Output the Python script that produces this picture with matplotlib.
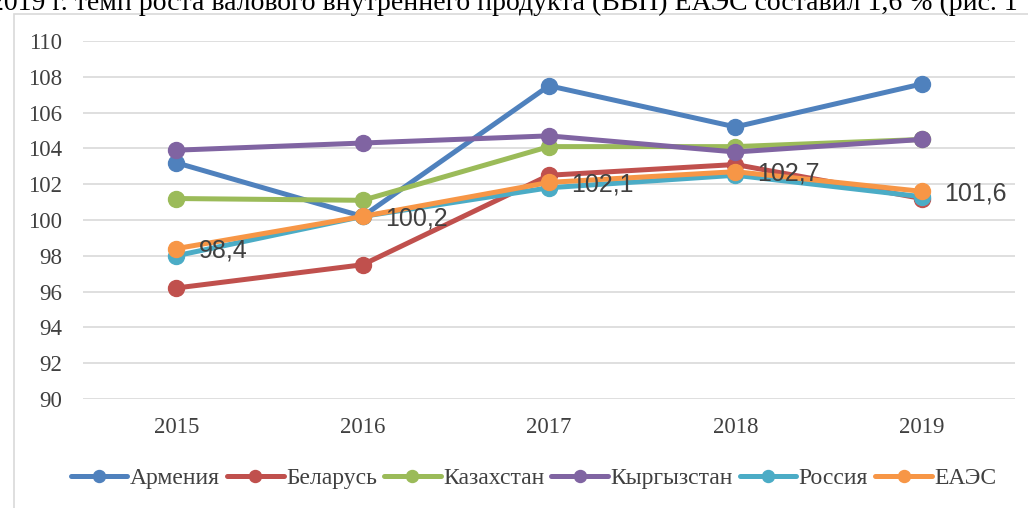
import matplotlib.pyplot as plt
from matplotlib.patches import Rectangle

years = ['2015', '2016', '2017', '2018', '2019']
armenia = [103.2, 100.2, 107.5, 105.2, 107.6]
belarus = [96.2, 97.5, 102.5, 103.1, 101.2]
kazakhstan = [101.2, 101.1, 104.1, 104.1, 104.5]
kyrgyzstan = [103.9, 104.3, 104.7, 103.8, 104.5]
russia = [98.0, 100.2, 101.8, 102.5, 101.3]
eaeu = [98.4, 100.2, 102.1, 102.7, 101.6]

series = [
    ('Армения', armenia, '#4F81BD'),
    ('Беларусь', belarus, '#C0504D'),
    ('Казахстан', kazakhstan, '#9BBB59'),
    ('Кыргызстан', kyrgyzstan, '#8064A2'),
    ('Россия', russia, '#4BACC6'),
    ('ЕАЭС', eaeu, '#F79646'),
]

fig = plt.figure(figsize=(10.28, 5.08), dpi=100)

# chart frame
fig.patches.append(Rectangle((14 / 1028, -0.05), 1.1, 1 - 14 / 508 + 0.05,
                             transform=fig.transFigure, fill=False,
                             edgecolor='#D9D9D9', linewidth=1.2))

# cut-off line of the document text above the chart
fig.text(-10 / 1028, 1 - 10 / 508,
         '2019 г. темп роста валового внутреннего продукта (ВВП) ЕАЭС составил 1,6 % (рис. 1',
         fontfamily='Liberation Serif', fontsize=20, va='baseline', ha='left')

ax = fig.add_axes([83 / 1028, 1 - 399 / 508, (1015 - 83) / 1028, (399 - 41) / 508])
x = list(range(len(years)))

for name, vals, color in series:
    ax.plot(x, vals, color=color, linewidth=3.6, marker='o', markersize=11.5,
            label=name, solid_capstyle='round')

for i, v in enumerate(eaeu):
    ax.annotate(f'{v:.1f}'.replace('.', ','), (i, v), xytext=(16, -1.5),
                textcoords='offset points', va='center', ha='left',
                fontsize=18, color='#404040', fontfamily='Liberation Sans')

ax.set_xlim(-0.5, 4.5)
ax.set_ylim(90, 110)
ax.set_yticks(range(90, 111, 2))
ax.set_xticks(x)
ax.set_xticklabels(years)
ax.grid(axis='y', color='#D9D9D9', linewidth=1.2)
ax.set_axisbelow(True)
for s in ax.spines.values():
    s.set_visible(False)
ax.tick_params(length=0, labelsize=16.5, labelcolor='#404040', pad=15)
ax.tick_params(axis='x', pad=13)
for lbl in ax.get_xticklabels() + ax.get_yticklabels():
    lbl.set_fontfamily('Liberation Serif')

leg = fig.legend(loc='center', bbox_to_anchor=(0.519, 1 - 478 / 508), ncol=6,
                 frameon=False, prop={'family': 'Liberation Serif', 'size': 17},
                 handlelength=2.4, handletextpad=0.1, columnspacing=0.3,
                 labelcolor='#404040', markerscale=0.75)

fig.savefig('out.png', dpi=100)
